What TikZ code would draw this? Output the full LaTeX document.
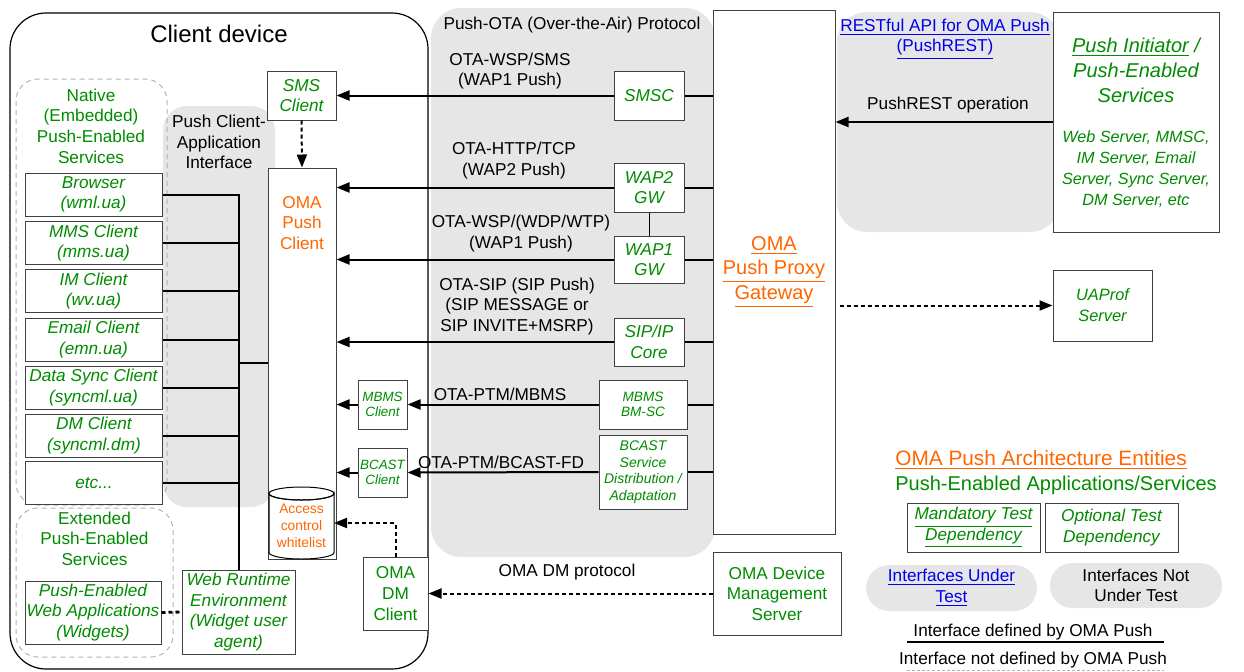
\documentclass[tikz,border=0pt]{standalone}
\usepackage{fontspec}
\setmainfont{Liberation Sans}
\usetikzlibrary{arrows.meta}
\definecolor{omagreen}{RGB}{0,140,0}
\definecolor{omaorange}{RGB}{255,102,0}
\definecolor{omablue}{RGB}{0,0,238}
\definecolor{zonegray}{RGB}{230,230,230}
\newcommand{\fsz}[2]{\fontsize{#1}{#2}\selectfont}
\begin{document}
\begin{tikzpicture}[x=0.5pt, y=-0.5pt,
    box/.style={draw=black!75, line width=0.5pt, fill=white, inner sep=0pt, align=center, font=\fsz{8.6}{10.3}},
    app/.style={box, text=omagreen, font=\fsz{8.6}{10.3}\itshape},
    mini/.style={box, text=omagreen, font=\fsz{6.7}{7.6}\itshape},
    client/.style={app, minimum width=68.5pt, minimum height=21.5pt},
    lbl/.style={inner sep=0pt, align=center, font=\fsz{8.6}{10.3}},
    zone/.style={fill=zonegray, rounded corners=15pt},
    grp/.style={draw=gray!60, dash pattern=on 2.5pt off 2pt, line width=0.5pt, rounded corners=11pt},
    link/.style={line width=1pt},
    arr/.style={-{Triangle[length=6.5pt,width=5pt]}},
    dotlink/.style={link, dash pattern=on 2pt off 1.5pt}]
  \useasboundingbox (0,0) rectangle (1244,671);
  % grey areas
  \fill[zone, rounded corners=12pt] (163,106) rectangle (275,507);
  \fill[zone] (431,8) rectangle (715,557);
  \fill[zone] (837,12) rectangle (1060,232);
  % client device
  \draw[line width=0.6pt] [rounded corners=18pt] (10,13) rectangle (428,669);
  \draw[grp] (16,79) rectangle (167,505);
  \draw[grp] (16,508) rectangle (173,657);
  \node[lbl, font=\fsz{12}{14}] (title) at (219,34) {Client device};
  \node[lbl, text=omagreen] (native) at (91,126) {Native\\(Embedded)\\Push-Enabled\\Services};
  \node[lbl] (pcai) at (219,142) {Push Client-\\Application\\Interface};
  \node[client] (browser) at (93.5,194.5) {Browser\\(wml.ua)};
  \node[client] (mms) at (93.5,243) {MMS Client\\(mms.ua)};
  \node[client] (im) at (93.5,291) {IM Client\\(wv.ua)};
  \node[client] (email) at (93.5,339.5) {Email Client\\(emn.ua)};
  \node[client] (sync) at (93.5,387.5) {Data Sync Client\\(syncml.ua)};
  \node[client] (dm) at (94,435.5) {DM Client\\(syncml.dm)};
  \node[client] (more) at (94,483) {etc...};
  \node[app, minimum width=34.5pt, minimum height=24.5pt] (smscl) at (301.5,95.5) {SMS\\Client};
  \node[box, minimum width=34pt, minimum height=195.5pt] (pc) at (302,363.5) {};
  \node[lbl, text=omaorange] (pctext) at (302,223) {OMA\\Push\\Client};
  % whitelist
  \draw[line width=0.5pt, fill=white] (269,493.5) -- (269,552.5)
    arc[start angle=180, end angle=0, x radius=32.5, y radius=6.5] -- (334,493.5)
    arc[start angle=0, end angle=180, x radius=32.5, y radius=6.5] -- cycle;
  \draw[line width=0.5pt] (301.5,493.5) ellipse[x radius=32.5, y radius=6.5];
  \node[lbl, text=omaorange, font=\fsz{6.9}{8.5}] (wltext) at (301.5,526) {Access\\control\\whitelist};
  \coordinate (wl) at (334,523);
  \node[mini, minimum width=24.5pt, minimum height=24.5pt] (mbms) at (382.5,404.5) {MBMS\\Client};
  \node[mini, minimum width=24.5pt, minimum height=24.5pt] (bcast) at (382.5,472.5) {BCAST\\Client};
  \node[box, text=omagreen, minimum width=32.5pt, minimum height=36.5pt] (dmc) at (395.5,593.5) {OMA\\DM\\Client};
  \node[lbl, text=omagreen] (ext) at (94.5,538.5) {Extended\\Push-Enabled\\Services};
  \node[app, minimum width=68pt, minimum height=31.5pt] (webapps) at (93,612.5) {Push-Enabled\\Web Applications\\(Widgets)};
  \node[app, minimum width=56.5pt, minimum height=42pt] (wre) at (238.5,612) {Web Runtime\\Environment\\(Widget user\\agent)};
  % push-ota
  \node[lbl] (otatitle) at (572,25) {Push-OTA (Over-the-Air) Protocol};
  \node[app, minimum width=35pt, minimum height=24.5pt] (smsc) at (649,95.5) {SMSC};
  \node[app, minimum width=35pt, minimum height=24.5pt] (wap2) at (649,187.5) {WAP2\\GW};
  \node[app, minimum width=35pt, minimum height=23.5pt] (wap1) at (649,259.5) {WAP1\\GW};
  \node[app, minimum width=35pt, minimum height=24pt] (sipc) at (649,342) {SIP/IP\\Core};
  \node[mini, font=\fsz{6.8}{7.8}\itshape, minimum width=44pt, minimum height=24.5pt] (bmsc) at (643,404.5) {MBMS\\BM-SC};
  \node[mini, font=\fsz{7}{8.2}\itshape, minimum width=44pt, minimum height=37pt] (bsda) at (643,472) {BCAST\\Service\\Distribution /\\Adaptation};
  \node[lbl] (lwsp) at (510,71) {OTA-WSP/SMS\\(WAP1 Push)};
  \node[lbl] (lhttp) at (514,160.5) {OTA-HTTP/TCP\\(WAP2 Push)};
  \node[lbl] (lwdp) at (521,233.5) {OTA-WSP/(WDP/WTP)\\(WAP1 Push)};
  \node[lbl] (lsip) at (517,306.5) {OTA-SIP (SIP Push)\\(SIP MESSAGE or\\SIP INVITE+MSRP)};
  \node[lbl] (lmbms) at (500,394) {OTA-PTM/MBMS};
  \node[lbl] (lbcast) at (501,462) {OTA-PTM/BCAST-FD};
  \node[lbl] (ldm) at (567,572) {OMA DM protocol};
  \node[box, minimum width=61pt, minimum height=262pt] (ppg) at (774,272) {};
  \node[lbl, text=omaorange, font=\fsz{10}{12.3}] (ppgtext) at (774,272) {\underline{OMA}\\\underline{Push Proxy}\\\underline{Gateway}};
  \node[box, text=omagreen, minimum width=64pt, minimum height=41.5pt] (dms) at (777,593.5) {OMA Device\\Management\\Server};
  % push initiator
  \node[lbl, text=omablue] (rest) at (945,39) {\underline{RESTful API for OMA Push}\\\underline{(PushREST)}};
  \node[lbl] (lrest) at (948,105) {PushREST operation};
  \node[box, minimum width=83pt, minimum height=110pt] (pi) at (1136,122) {};
  \node[lbl, text=omagreen, font=\fsz{10}{12.5}\itshape] (pitext) at (1136,70) {\underline{Push Initiator} /\\Push-Enabled\\Services};
  \node[lbl, text=omagreen, font=\fsz{8.1}{10.5}\itshape] (pilist) at (1136,169.5) {Web Server, MMSC,\\IM Server, Email\\Server, Sync Server,\\DM Server, etc};
  \node[app, font=\fsz{8.2}{10.5}\itshape, minimum width=49.5pt, minimum height=35.5pt] (uaprof) at (1102.5,305.5) {UAProf\\Server};
  % legend
  \node[lbl, anchor=base west, text=omaorange, font=\fsz{10.4}{12}] (leg1) at (895,465) {\underline{OMA Push Architecture Entities}};
  \node[lbl, anchor=base west, text=omagreen, font=\fsz{10}{12}] (leg2) at (895,490) {Push-Enabled Applications/Services};
  \node[app, minimum width=66.5pt, minimum height=24.5pt] (mand) at (973.5,527.5) {\underline{Mandatory Test}\\\underline{Dependency}};
  \node[app, minimum width=66.5pt, minimum height=24.5pt] (opt) at (1111.5,527.5) {Optional Test\\Dependency};
  \node[lbl, fill=zonegray, rounded corners=11.5pt, minimum width=85.5pt, minimum height=23pt, text=omablue] (iut) at (951.5,588) {\underline{Interfaces Under}\\\underline{Test}};
  \node[lbl, fill=zonegray, rounded corners=11pt, minimum width=86pt, minimum height=22.5pt] (inut) at (1136,585.5) {Interfaces Not\\Under Test};
  \node[lbl] (ldef) at (1033,632) {Interface defined by OMA Push};
  \node[lbl] (lndef) at (1033,660) {Interface not defined by OMA Push};
  \coordinate (defa) at (907,642);
  \coordinate (defb) at (1164,642);
  \coordinate (ndefa) at (907,670);
  \coordinate (ndefb) at (1164,670);
  \draw[link] (defa) -- (defb);
  \draw[gray!60, line width=0.5pt, dash pattern=on 1.5pt off 1pt] (ndefa) -- (ndefb);
  % connectors
  \draw[link] (ppg.west |- smsc.east) -- (smsc.east);
  \draw[link,arr] (smsc.west) -- (smscl.east);
  \draw[link] (ppg.west |- wap2.east) -- (wap2.east);
  \draw[link,arr] (wap2.west) -- (pc.east |- wap2.west);
  \draw[line width=0.5pt] (wap2.south) -- (wap1.north);
  \draw[link] (ppg.west |- wap1.east) -- (wap1.east);
  \draw[link,arr] (wap1.west) -- (pc.east |- wap1.west);
  \draw[link] (ppg.west |- sipc.east) -- (sipc.east);
  \draw[link,arr] (sipc.west) -- (pc.east |- sipc.west);
  \draw[link] (ppg.west |- bmsc.east) -- (bmsc.east);
  \draw[link,arr] (bmsc.west) -- (mbms.east);
  \draw[link,arr] (mbms.west) -- (pc.east |- mbms.west);
  \draw[link] (ppg.west |- bsda.east) -- (bsda.east);
  \draw[link,arr] (bsda.west) -- (bcast.east);
  \draw[link,arr] (bcast.west) -- (pc.east |- bcast.west);
  \draw[link,arr] (pi.west) -- (ppg.east |- pi.west);
  \draw[dotlink,arr] ([xshift=2pt]ppg.east |- uaprof.west) -- (uaprof.west);
  \draw[dotlink,arr] (dms.west) -- (dmc.east |- dms.west);
  \draw[dotlink,arr] (dmc.north) |- (wl);
  \draw[dotlink,arr] (smscl.south) -- (pc.north);
  \draw[dotlink, line width=1.4pt] (webapps.east) -- (wre.west);
  % bus
  \draw[link] (browser.east) -| (wre.north);
  \foreach \c in {mms,im,email,sync,dm,more}
    \draw[link] (\c.east) -- (\c.east -| wre.north);
  \coordinate (bj) at (238.5,363);
  \draw[link] (bj) -- (pc.west |- bj);
\end{tikzpicture}
\end{document}
